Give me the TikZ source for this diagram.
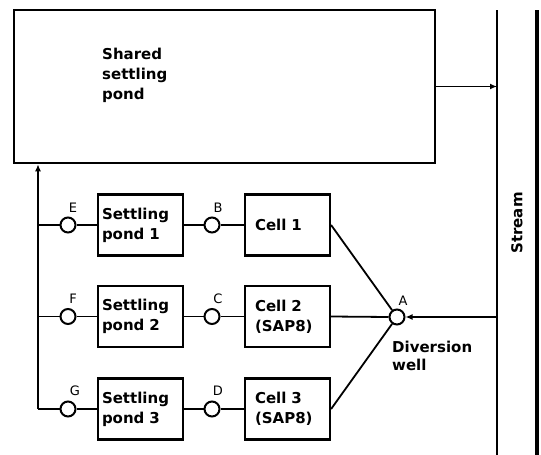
\documentclass[tikz,border=0pt]{standalone}
\usepackage{fontspec}
\setmainfont{DejaVu Sans}
\usetikzlibrary{arrows.meta}
\begin{document}
\begin{tikzpicture}[x=1pt,y=-1pt,
 box/.style={draw,line width=2.2pt,rectangle,minimum width=85pt,minimum height=61pt,inner ysep=0pt,align=left,font=\fontsize{15}{20}\selectfont\bfseries},
 pondbox/.style={box,text width=77pt,inner xsep=4pt},
 cellbox/.style={box,text width=65pt,inner xsep=10pt},
 lbl/.style={font=\fontsize{15}{20}\selectfont\bfseries,align=left,anchor=west,inner sep=0pt},
 valve/.style={draw,circle,line width=2pt,minimum size=15pt,inner sep=0pt,fill=white},
 vlab/.style={font=\fontsize{13}{13}\selectfont,inner sep=0pt},
 flow/.style={line width=1.8pt},
 thickflow/.style={line width=2.8pt},
 tip/.style={-{Latex[length=7pt,width=6pt]}}
]
\useasboundingbox (0,0) rectangle (541,455);
% shared settling pond
\node[draw,line width=2.6pt,minimum width=421pt,minimum height=153pt,inner sep=0pt] (shared) at (224.5,86.5) {};
\node[lbl] (sharedtxt) at (102,75) {Shared\\settling\\pond};
% stream
\coordinate (sl1) at (497,10);
\coordinate (sl2) at (497,455);
\coordinate (sr1) at (537,10);
\coordinate (sr2) at (537,455);
\draw[flow] (sl1) -- (sl2);
\draw[line width=3.5pt] (sr1) -- (sr2);
\node[lbl,anchor=center,rotate=90] (streamtxt) at (517,223) {Stream};
\draw[flow,tip] (shared.east) -- (shared.east -| sl1);
% rows
\node[pondbox] (p1) at (140.5,225) {Settling\\pond 1};
\node[pondbox] (p2) at (140.5,316.5) {Settling\\pond 2};
\node[pondbox] (p3) at (140.5,409) {Settling\\pond 3};
\node[cellbox] (c1) at (287.5,225) {Cell 1};
\node[cellbox] (c2) at (287.5,316.5) {Cell 2\\(SAP8)};
\node[cellbox] (c3) at (287.5,409) {Cell 3\\(SAP8)};
\coordinate (j1) at (38,225);
\coordinate (j2) at (38,316.5);
\coordinate (j3) at (38,409);
\node[valve] (E) at (68,225) {};
\node[valve] (F) at (68,316.5) {};
\node[valve] (G) at (68,409) {};
\node[valve] (B) at (212,225) {};
\node[valve] (C) at (212,316.5) {};
\node[valve] (D) at (212,409) {};
\node[valve] (A) at (397,317) {};
\node[vlab] (Elab) at (73,208) {E};
\node[vlab] (Flab) at (73,299) {F};
\node[vlab] (Glab) at (75,391) {G};
\node[vlab] (Blab) at (218,208) {B};
\node[vlab] (Clab) at (218,299) {C};
\node[vlab] (Dlab) at (218,391) {D};
\node[vlab] (Alab) at (403,301) {A};
\node[lbl,font=\fontsize{15}{18}\selectfont\bfseries] (divtxt) at (392,356) {Diversion\\well};
% connectors
\draw[flow,tip] (j3) -- (j3 |- shared.south);
\draw[thickflow] (j1) -- (E.west);
\draw[thickflow] (E.east) -- (p1.west);
\draw[thickflow] (p1.east) -- (B.west);
\draw[thickflow] (B.east) -- (c1.west);
\draw[flow] (j2) -- (F.west);
\draw[flow] (F.east) -- (p2.west);
\draw[flow] (p2.east) -- (C.west);
\draw[flow] (C.east) -- (c2.west);
\draw[flow] (j3) -- (G.west);
\draw[flow] (G.east) -- (p3.west);
\draw[flow] (p3.east) -- (D.west);
\draw[flow] (D.east) -- (c3.west);
\draw[flow] (c1.east) -- (A);
\draw[flow] (c2.east) -- (A.west);
\draw[flow] (c3.east) -- (A);
\draw[flow,tip] (A.east -| sl1) -- (A.east);
\end{tikzpicture}
\end{document}
